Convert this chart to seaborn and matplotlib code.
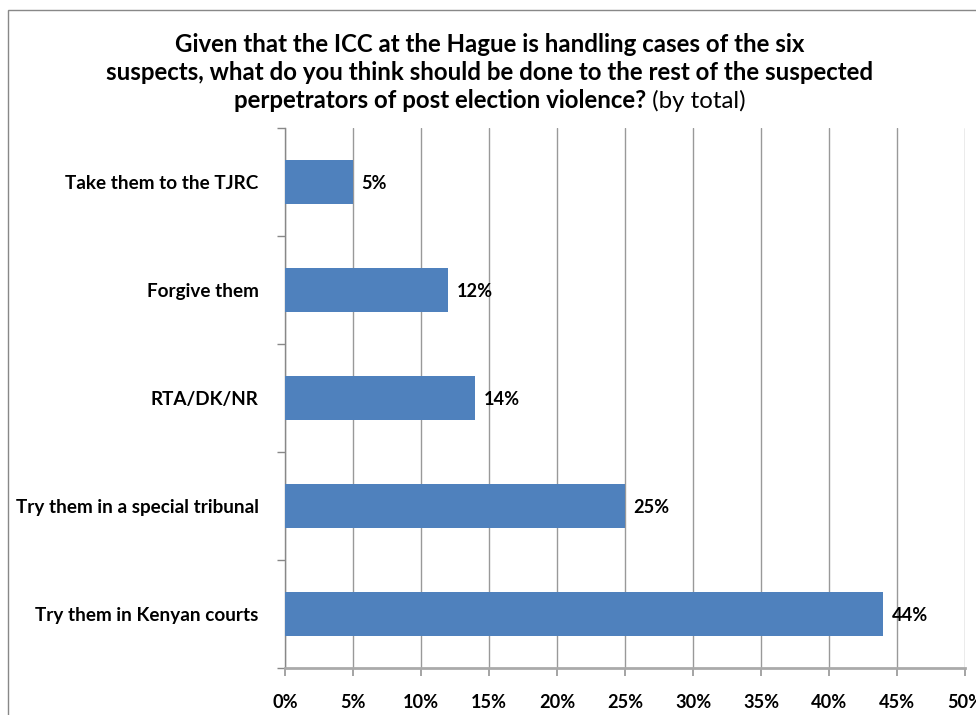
import matplotlib
matplotlib.use("Agg")
import matplotlib.pyplot as plt
import matplotlib.patches as mpatches
import seaborn as sns
import pandas as pd
import numpy as np

categories = ["Take them to the TJRC", "Forgive them", "RTA/DK/NR",
              "Try them in a special tribunal", "Try them in Kenyan courts"]
values = [5, 12, 14, 25, 44]
xticks = [0, 5, 10, 15, 20, 25, 30, 35, 40, 45, 50]
xtick_labels = [f"{v}%" for v in xticks]
title_lines = ["Given that the ICC at the Hague is handling cases of the six",
               "suspects, what do you think should be done to the rest of the suspected"]
title_last_bold = "perpetrators of post election violence?"
title_last_normal = " (by total)"

sns.set_theme(style="white")
FAM = "Lato"
plt.rcParams['font.family'] = [FAM, 'DejaVu Sans']
plt.rcParams['text.color'] = 'black'
plt.rcParams['xtick.color'] = 'black'
plt.rcParams['ytick.color'] = 'black'

W, H = 976, 715
fig = plt.figure(figsize=(W / 100, H / 100), dpi=100)
fig.canvas.draw()
r = fig.canvas.get_renderer()


def fit_size(text, target_px, weight="bold"):
    t = fig.text(0, 0, text, fontsize=10, fontweight=weight)
    w = t.get_window_extent(r).width
    t.remove()
    return 10 * target_px / w


cat_fs = fit_size("Try them in a special tribunal", 242)
tick_fs = fit_size("10%", 36)
title_fs = fit_size(title_lines[1], 768)

ax = fig.add_axes([285 / W, 1 - 668 / H, (965 - 285) / W, (668 - 128) / H])

df = pd.DataFrame({"cat": categories, "val": values})
sns.barplot(data=df, x="val", y="cat", order=categories, orient="h",
            color="#4F81BD", saturation=1, width=0.4, linewidth=0, ax=ax, zorder=3)

ax.set_xlim(0, 50)
ax.set_ylim(len(categories) - 0.5, -0.5)
ax.set_xticks(xticks)
ax.set_xticklabels(xtick_labels, fontsize=tick_fs, fontweight="bold")
ax.set_yticks(range(len(categories)))
ax.set_yticklabels(categories, fontsize=cat_fs, fontweight="bold")
ax.set_yticks(np.arange(-0.5, len(categories), 1), minor=True)
ax.tick_params(axis="y", which="major", length=0, pad=19)
ax.tick_params(axis="y", which="minor", length=6, color="#888888", direction="out", left=True)
ax.tick_params(axis="x", which="major", length=6, color="#999999", direction="out",
               bottom=True, pad=12.5)
ax.set_xlabel("")
ax.set_ylabel("")
ax.grid(axis="x", color="#999999", linewidth=1, zorder=0)
ax.set_axisbelow(True)
for s in ["top", "right"]:
    ax.spines[s].set_visible(False)
ax.spines["left"].set_color("#888888")
ax.spines["left"].set_linewidth(1)
ax.spines["bottom"].set_color("#AAAAAA")
ax.spines["bottom"].set_linewidth(2)

for i, v in enumerate(values):
    ax.annotate(f"{v}%", xy=(v, i), xytext=(6, -1), textcoords="offset points",
                va="center", ha="left", fontsize=tick_fs, fontweight="bold", color="black")

# figure border
fig.patches.append(mpatches.Rectangle((8 / W, -0.1), 1.2, 1 - 10 / H + 0.1,
                                      transform=fig.transFigure, fill=False,
                                      edgecolor="#888888", linewidth=1))

# title
cx = 490 / W
ys = [45, 73, 101]
for line, y in zip(title_lines, ys[:2]):
    fig.text(cx, 1 - y / H, line, ha="center", va="center", fontsize=title_fs, fontweight="bold")
t1 = fig.text(0, 1 - ys[2] / H, title_last_bold, ha="left", va="center", fontsize=title_fs, fontweight="bold")
t2 = fig.text(0, 1 - ys[2] / H, title_last_normal, ha="left", va="center", fontsize=title_fs)
w1 = t1.get_window_extent(r).width
w2 = t2.get_window_extent(r).width
x0 = cx * W - (w1 + w2) / 2
t1.set_x(x0 / W)
t2.set_x((x0 + w1) / W)

fig.savefig("out.png", dpi=100)
